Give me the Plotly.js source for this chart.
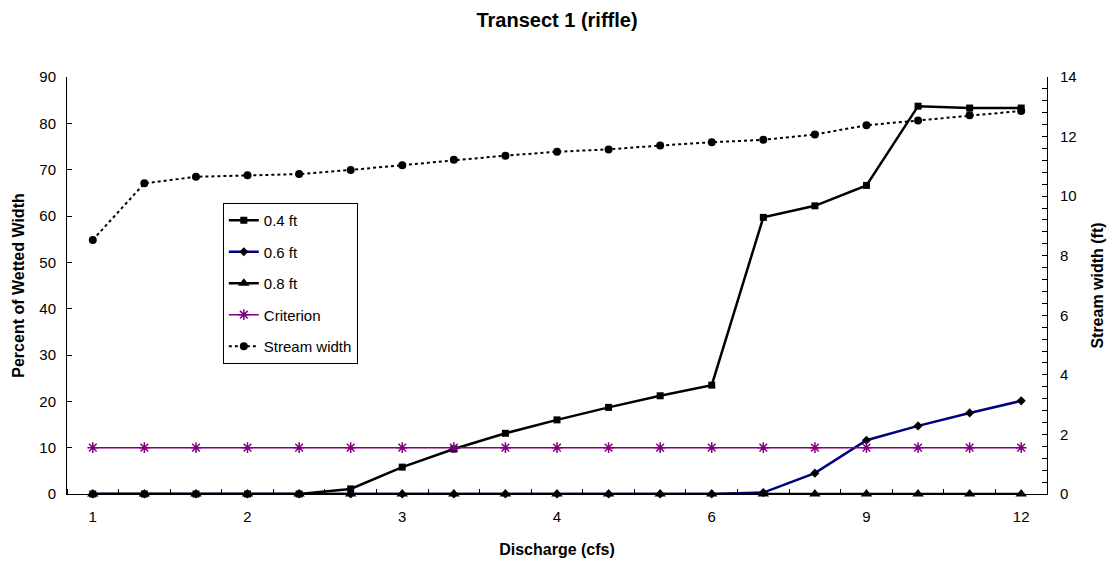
<!DOCTYPE html>
<html>
<head>
<meta charset="utf-8">
<script src="https://cdn.plot.ly/plotly-3.0.1.min.js"></script>
<style>html,body{margin:0;padding:0;background:#fff;}#chart{width:1110px;height:564px;}</style>
</head>
<body>
<div id="chart"></div>
<script>
// Discharge categories (cfs) – only every third one is labelled on the axis
var xLabels = ['1','','','2','','','3','','','4','','','6','','','9','','','12'];
var xIndex = xLabels.map(function(_, i){ return i; });

// Percent of wetted width (left axis)
var ft04 = [0, 0, 0, 0, 0, 1.1, 5.8, 9.7, 13.1, 16.0, 18.7, 21.2, 23.5, 59.7, 62.2, 66.6, 83.7, 83.3, 83.3];
var ft06 = [0, 0, 0, 0, 0, 0, 0, 0, 0, 0, 0, 0, 0, 0.3, 4.5, 11.6, 14.7, 17.5, 20.1];
var ft08 = [0, 0, 0, 0, 0, 0, 0, 0, 0, 0, 0, 0, 0, 0, 0, 0, 0, 0, 0];
var criterion = [10, 10, 10, 10, 10, 10, 10, 10, 10, 10, 10, 10, 10, 10, 10, 10, 10, 10, 10];

// Stream width in ft (right axis)
var streamWidth = [8.53, 10.43, 10.65, 10.70, 10.74, 10.88, 11.04, 11.22, 11.36, 11.49, 11.57, 11.70, 11.81, 11.89, 12.07, 12.38, 12.54, 12.72, 12.86];

var FONT = 'Liberation Sans, Arial, sans-serif';

// drawing order: 0.6 ft below 0.8 ft below 0.4 ft; legend order kept via legendrank
var traces = [
  {x: xIndex, y: ft06, name: '0.6 ft', legendrank: 2, mode: 'lines+markers', cliponaxis: false,
   line: {color: '#000080', width: 2.5}, marker: {symbol: 'diamond', size: 7, color: '#000000'}},
  {x: xIndex, y: ft08, name: '0.8 ft', legendrank: 3, mode: 'lines+markers', cliponaxis: false,
   line: {color: '#000000', width: 2.5}, marker: {symbol: 'triangle-up', size: 10, color: '#000000'}},
  {x: xIndex, y: ft04, name: '0.4 ft', legendrank: 1, mode: 'lines+markers', cliponaxis: false,
   line: {color: '#000000', width: 2.5}, marker: {symbol: 'square', size: 7, color: '#000000'}},
  {x: xIndex, y: criterion, name: 'Criterion', legendrank: 4, mode: 'lines+markers', cliponaxis: false,
   line: {color: '#800080', width: 1.5}, marker: {symbol: 'asterisk-open', size: 9, color: '#800080', line: {color: '#800080', width: 1.5}}},
  {x: xIndex, y: streamWidth, name: 'Stream width', legendrank: 5, yaxis: 'y2', mode: 'lines+markers', cliponaxis: false,
   line: {color: '#000000', width: 2, dash: 'dot'}, marker: {symbol: 'circle', size: 8, color: '#000000'}}
];
traces.forEach(function(t){ t.legendgroup = t.name; });

var layout = {
  width: 1110, height: 564,
  margin: {l: 67, r: 63, t: 77, b: 70, pad: 0},
  paper_bgcolor: '#ffffff', plot_bgcolor: '#ffffff',
  font: {family: FONT, size: 15, color: '#000000'},
  showlegend: true,
  title: {text: '<b>Transect 1 (riffle)</b>', font: {family: FONT, size: 20, color: '#000'},
          x: 0.5, xref: 'paper', xanchor: 'center', y: 0.965, yref: 'container', yanchor: 'middle'},
  xaxis: {
    range: [-0.5, 18.5], tickmode: 'array', tickvals: xIndex, ticktext: xLabels,
    ticks: '', showgrid: false, zeroline: false, showline: true, linecolor: '#000', linewidth: 1,
    tickfont: {family: FONT, size: 15}, ticklabelstandoff: 9,
    minor: {tickmode: 'linear', tick0: -0.5, dtick: 1, ticks: 'inside', ticklen: 5, tickcolor: '#000', showgrid: false},
    title: {text: '<b>Discharge (cfs)</b>', font: {family: FONT, size: 16}, standoff: 19}
  },
  yaxis: {
    range: [0, 90], dtick: 10, ticks: 'inside', ticklen: 5, tickcolor: '#000',
    showgrid: false, zeroline: false, showline: true, linecolor: '#000', linewidth: 1,
    tickfont: {family: FONT, size: 15}, ticklabelstandoff: 7,
    title: {text: '<b>Percent of Wetted Width</b>', font: {family: FONT, size: 16}, standoff: 10}
  },
  yaxis2: {
    range: [0, 14], dtick: 2, overlaying: 'y', side: 'right', ticks: 'inside', ticklen: 5, tickcolor: '#000',
    showgrid: false, zeroline: false, showline: true, linecolor: '#000', linewidth: 1,
    tickfont: {family: FONT, size: 15}, ticklabelstandoff: 9,
    minor: {tickmode: 'linear', tick0: 0, dtick: 0.4, ticks: 'inside', ticklen: 5, tickcolor: '#000', showgrid: false},
    title: {text: '<b>Stream width (ft)</b>', font: {family: FONT, size: 16}, standoff: 16}
  },
  legend: {
    x: 0.159, y: 0.698, xanchor: 'left', yanchor: 'top', xref: 'paper', yref: 'paper',
    bgcolor: '#ffffff', bordercolor: '#000000', borderwidth: 1,
    font: {family: FONT, size: 15}, traceorder: 'grouped', tracegroupgap: 9
  }
};

Plotly.newPlot('chart', traces, layout, {displayModeBar: false, staticPlot: true});
</script>
</body>
</html>
